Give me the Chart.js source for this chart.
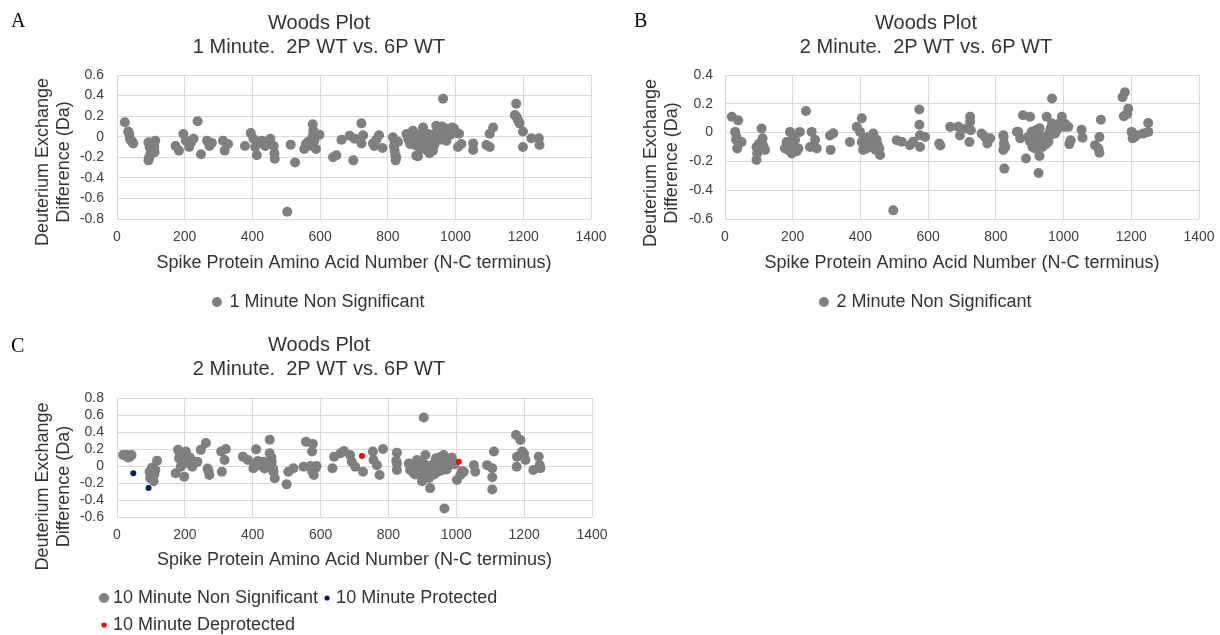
<!DOCTYPE html>
<html><head><meta charset="utf-8">
<script src="https://cdn.jsdelivr.net/npm/chart.js@4.4.1/dist/chart.umd.min.js"></script>
<style>
html,body{margin:0;padding:0;background:#fff;}
body{width:1220px;height:635px;position:relative;overflow:hidden;}
canvas{position:absolute;}
.panel{position:absolute;font-family:'Liberation Serif','Times New Roman',serif;font-size:20px;line-height:20px;color:#000;}
</style></head><body>
<canvas id="chartA" width="610" height="325" style="left:0;top:0"></canvas>
<canvas id="chartB" width="610" height="325" style="left:610px;top:0"></canvas>
<canvas id="chartC" width="610" height="315" style="left:0;top:320px"></canvas>
<div class="panel" style="left:11px;top:10px">A</div>
<div class="panel" style="left:634px;top:10px">B</div>
<div class="panel" style="left:11px;top:335px">C</div>
<script>
// ---------- data ----------
const xTicks = [0, 200, 400, 600, 800, 1000, 1200, 1400];
const yTicksA = [-0.8, -0.6, -0.4, -0.2, 0, 0.2, 0.4, 0.6];
const yTicksB = [-0.6, -0.4, -0.2, 0, 0.2, 0.4];
const yTicksC = [-0.6, -0.4, -0.2, 0, 0.2, 0.4, 0.6, 0.8];

const titleA = ['Woods Plot', '1 Minute.  2P WT vs. 6P WT'];
const titleB = ['Woods Plot', '2 Minute.  2P WT vs. 6P WT'];
const titleC = ['Woods Plot', '2 Minute.  2P WT vs. 6P WT'];
const xAxisTitle = 'Spike Protein Amino Acid Number (N-C terminus)';
const yAxisTitle = ['Deuterium Exchange', 'Difference (Da)'];

// Panel A: 1 minute
const residueA = [23,33,36,38,42,45,48,
  93,96,93,98,105,108,111,113,
  173,183,196,203,213,218,226,238,248,266,273,280,
  313,318,328,
  378,395,403,408,413,420,428,438,445,453,463,465,466,
  503,513,526,553,558,565,578,578,583,588,598,
  638,648,663,687,698,702,722,727,722,
  756,760,766,774,784,
  815,820,820,822,823,830,
  855,860,864,869,874,880,884,889,894,899,904,909,914,914,919,923,928,933,933,938,943,948,953,958,963,963,968,973,978,987,995,1002,1007,1010,1017,
  1052,1052,1091,1101,1101,1111,
  1175,1179,1181,1184,1189,1199,1199,1224,1246,1248,
  100,95,110,575,580,818,825,866,870,876,885,895,900,905,910,915,920,925,930,935,940,945,950,955,960,965,970,975,980,985,990];
const diffA = [0.14,0.05,0.03,-0.02,-0.04,-0.05,-0.065,
  -0.055,-0.10,-0.23,-0.18,-0.08,-0.12,-0.15,-0.04,
  -0.09,-0.135,0.026,-0.04,-0.10,-0.06,-0.02,0.15,-0.17,-0.04,-0.09,-0.06,
  -0.04,-0.135,-0.07,
  -0.09,0.035,-0.02,-0.10,-0.18,-0.06,-0.04,-0.09,-0.05,-0.02,-0.09,-0.16,-0.215,
  -0.73,-0.077,-0.25,-0.12,-0.07,-0.05,0.12,0.01,-0.04,-0.12,0.02,
  -0.2,-0.18,-0.03,0.01,-0.23,-0.02,0.13,0.015,-0.065,
  -0.065,-0.09,-0.03,0.015,-0.11,
  -0.006,-0.05,-0.136,-0.18,-0.23,-0.05,
  0.026,-0.02,-0.04,-0.05,0.058,-0.08,-0.184,-0.19,-0.006,0.03,0.09,-0.065,-0.1,-0.13,0.026,-0.16,-0.055,-0.136,0,-0.065,0.107,0.04,0.026,0.065,0.37,0.09,0.02,-0.04,0.03,0.074,0.08,0.042,-0.1,0.03,-0.07,
  -0.065,-0.13,-0.08,-0.1,0.03,0.09,
  0.21,0.32,0.19,0.16,0.13,0.05,-0.1,-0.015,-0.015,-0.08,
  -0.14,-0.2,-0.1,-0.09,0.06,-0.09,-0.2,-0.07,0.03,-0.02,-0.03,-0.12,-0.1,-0.04,0.02,-0.03,-0.08,-0.11,-0.03,-0.09,0.03,-0.02,0.07,-0.03,0.1,0.05,0.08,0.06,0.05,0.02,0.09];

// Panel B: 2 minute
const residueB = [20,30,34,36,39,49,
  93,95,93,100,108,111,113,118,
  177,182,192,197,202,207,217,221,239,251,256,266,271,
  310,312,320,
  369,389,399,404,404,408,415,423,430,438,448,452,456,458,
  497,507,522,546,556,574,574,576,576,591,
  633,636,665,689,694,713,722,724,724,726,
  758,768,775,783,
  822,823,824,828,822,825,
  862,866,872,880,889,901,906,906,911,911,918,921,925,929,929,926,935,941,950,955,960,966,966,975,980,995,1000,1014,1017,1021,
  1053,1056,1093,1103,1106,1106,1110,
  1174,1178,1181,1188,1191,1201,1204,1210,1216,1235,1250,1250,
  33,40,187,195,200,212,410,418,427,442,445,895,900,908,913,916,920,932,938,944,948,952,958,962,970,985,990,1005];
const diffB = [0.11,0.005,-0.03,-0.11,0.085,-0.065,
  -0.19,-0.145,-0.10,-0.08,0.028,-0.04,-0.09,-0.12,
  -0.11,-0.065,0.005,-0.145,-0.09,-0.05,-0.11,0.005,0.15,-0.10,0.005,-0.05,-0.11,
  -0.02,-0.12,-0.005,
  -0.065,0.04,0.005,0.1,-0.065,-0.12,-0.09,-0.03,-0.07,-0.007,-0.05,-0.09,-0.11,-0.155,
  -0.54,-0.053,-0.064,-0.087,-0.064,0.16,0.055,-0.018,-0.10,-0.03,
  -0.076,-0.09,0.04,0.04,-0.02,0.028,-0.065,0.11,0.075,0.016,
  -0.007,-0.03,-0.076,-0.04,
  -0.018,-0.03,-0.076,-0.1,-0.12,-0.25,
  0.006,0.005,-0.04,0.12,-0.18,0.11,0.006,-0.018,-0.087,-0.076,0.016,-0.03,-0.1,-0.163,0.03,-0.28,-0.03,-0.064,0.11,-0.064,-0.02,0.237,0.064,-0.006,0.016,0.11,0.04,0.04,-0.08,-0.053,
  0.02,-0.035,-0.087,-0.11,-0.03,-0.14,0.09,
  0.246,0.113,0.28,0.13,0.166,0.005,-0.04,-0.03,-0.018,-0.007,0.067,0.005,
  -0.05,-0.07,-0.12,-0.08,-0.03,-0.13,-0.04,-0.11,-0.1,-0.04,-0.12,-0.03,-0.06,-0.1,-0.05,-0.11,-0.02,-0.07,-0.1,-0.04,-0.08,-0.02,0.0,0.03,0.03,0.05,0.07,0.06];

// Panel C: 10 minute
const residueC = [18,28,33,38,43,
  96,98,103,105,108,113,118,
  173,180,183,188,198,203,210,215,222,237,247,262,267,270,272,
  307,309,317,321,
  371,386,402,410,420,431,440,450,450,456,461,465,
  500,505,520,550,557,575,577,580,585,
  635,640,659,669,687,692,702,725,
  754,756,766,774,784,
  823,825,825,825,
  860,864,869,874,879,884,889,899,904,909,914,923,928,938,943,948,953,958,963,965,970,978,987,1002,1012,1017,1022,
  1052,1056,1091,1106,1106,1106,1111,
  1176,1178,1179,1189,1194,1200,1204,1227,1243,1246,1248,
  100,110,103,190,195,185,205,405,415,425,435,445,455,460,570,575,588,866,872,880,893,896,902,906,912,918,920,926,932,935,940,945,950,955,960,968,972,980,995];
const diffC = [0.13,0.13,0.1,0.11,0.13,
  -0.067,-0.145,-0.106,-0.04,-0.18,-0.047,0.063,
  -0.086,0.19,0.09,-0.008,-0.125,0.17,0.03,0.1,-0.008,0.05,0.19,0.27,-0.03,-0.06,-0.106,
  0.17,-0.067,0.07,0.2,
  0.11,0.07,-0.027,0.196,0.02,0.05,-0.01,0.31,0.15,0.05,-0.067,-0.145,
  -0.216,-0.067,-0.027,-0.008,0.286,0.17,0.26,-0.106,-0.027,
  -0.027,0.11,0.15,0.176,0.13,0.05,-0.008,-0.067,
  0.17,0.07,0.01,-0.106,0.2,
  0.06,0.157,0.03,-0.047,
  0.03,-0.047,-0.04,-0.086,-0.1,0.07,0.04,-0.18,0.57,0.13,-0.027,-0.26,-0.086,0.05,-0.02,0.01,0.09,-0.05,0.13,-0.5,-0.02,0.01,0.1,-0.165,-0.106,-0.06,-0.067,
  0.01,-0.067,0.01,-0.027,-0.133,-0.275,0.17,
  0.365,-0.008,0.11,0.306,0.17,0.14,0.07,-0.047,0.11,0.01,-0.027,
  -0.12,-0.1,-0.02,0.13,0.05,0.15,0.11,0.0,0.06,0.0,-0.03,0.02,0.1,-0.03,0.0,-0.06,0.0,-0.02,0.02,0.0,-0.06,0.03,-0.09,0.02,-0.12,0.0,-0.14,-0.05,0.02,-0.1,0.09,-0.07,0.03,0.11,0.0,0.06,-0.04,0.04,0.02];
const protectedResidueC = [48, 93];
const protectedDiffC = [-0.086, -0.26];
const deprotectedResidueC = [722, 1007];
const deprotectedDiffC = [0.118, 0.05];

// ---------- styling helpers ----------
const FONT = "'Liberation Sans', Arial, Helvetica, sans-serif";
const TEXT = '#333333';
const TICK = '#404040';
const GRID = '#d9d9d9';
const GRAY = '#7f7f7f';
const NAVY = '#002060';
const RED = '#ff0000';

function pts(xs, ys) { return xs.map((x, i) => ({ x: x, y: ys[i] })); }

const yTitleShift = {
  id: 'yTitleShift',
  afterLayout(chart, args, opts) {
    const s = chart.scales.y;
    if (!s || s._shiftPatched) return;
    const orig = s.drawTitle;
    const d = (opts && opts.shift) || 0;
    s.drawTitle = function () {
      const t = this.top, b = this.bottom;
      this.top = t + d; this.bottom = b + d;
      orig.call(this);
      this.top = t; this.bottom = b;
    };
    s._shiftPatched = true;
  }
};

const customLegend = {
  id: 'customLegend',
  afterDraw(chart, args, opts) {
    if (!opts || !opts.items) return;
    const ctx = chart.ctx;
    ctx.save();
    ctx.font = '18px ' + FONT;
    ctx.textBaseline = 'middle';
    ctx.textAlign = 'left';
    let x = opts.x0, y = opts.y0;
    opts.items.forEach((it) => {
      if (it.newRow) { x = opts.x0; y += opts.rowH; }
      const ds = chart.data.datasets[it.ds];
      ctx.fillStyle = ds.backgroundColor;
      ctx.beginPath();
      ctx.arc(x + opts.markW / 2, y, it.r, 0, Math.PI * 2);
      ctx.fill();
      const tx = x + opts.markW + opts.gap;
      ctx.fillStyle = TEXT;
      ctx.fillText(ds.label, tx, y);
      x = tx + ctx.measureText(ds.label).width + opts.itemGap;
    });
    ctx.restore();
  }
};

function makeOptions(c) {
  return {
    responsive: false,
    animation: false,
    events: [],
    layout: { padding: { left: c.padL, right: 0, top: 0, bottom: c.padB } },
    plugins: {
      title: {
        display: true, text: c.title, color: TEXT,
        font: { family: FONT, size: 20, weight: 'normal', lineHeight: 1.2 },
        padding: { top: c.titleTop, bottom: c.titleBottom }
      },
      legend: c.builtinLegend ? {
        display: true, position: 'bottom', align: 'center',
        labels: {
          usePointStyle: true, boxWidth: 7, boxHeight: 7, padding: 10,
          color: TEXT, font: { family: FONT, size: 18 }
        }
      } : { display: false },
      tooltip: { enabled: false },
      yTitleShift: { shift: c.yShift },
      customLegend: c.customLegend || {}
    },
    scales: {
      x: {
        type: 'linear', min: 0, max: 1400,
        afterBuildTicks: (s) => { s.ticks = xTicks.map(v => ({ value: v })); },
        afterFit: (s) => { s.height = c.xH; },
        ticks: { color: TICK, font: { family: FONT, size: 14, lineHeight: 2.6 }, padding: 0, maxRotation: 0, autoSkip: false, callback: (v) => String(v) },
        grid: { color: GRID, drawTicks: false, lineWidth: 1 },
        border: { display: false },
        title: { display: true, text: xAxisTitle, color: TEXT, font: { family: FONT, size: 18, lineHeight: 1.2 }, padding: { top: 0, bottom: 9 } }
      },
      y: {
        type: 'linear', min: c.yTicks[0], max: c.yTicks[c.yTicks.length - 1],
        afterBuildTicks: (s) => { s.ticks = c.yTicks.map(v => ({ value: v })); },
        afterFit: (s) => { s.width = c.yW; },
        ticks: { color: TICK, font: { family: FONT, size: 14 }, padding: c.yTickPad, autoSkip: false, callback: (v) => String(v) },
        grid: { color: GRID, drawTicks: false, lineWidth: 1 },
        border: { display: false },
        title: { display: true, text: yAxisTitle, color: TEXT, font: { family: FONT, size: 18, lineHeight: 1.2 }, padding: { top: c.yTitlePad, bottom: 0 } }
      },
      yr: {
        type: 'linear', position: 'right', display: true,
        ticks: { display: false }, grid: { display: false }, border: { display: false },
        afterFit: (s) => { s.width = c.rW; }
      }
    }
  };
}

function grayDataset(label, xs, ys) {
  return {
    label: label, data: pts(xs, ys), backgroundColor: GRAY, borderColor: GRAY,
    borderWidth: 0, pointRadius: 5, pointHoverRadius: 5, pointStyle: 'circle', order: 2
  };
}

new Chart(document.getElementById('chartA'), {
  type: 'scatter',
  data: { datasets: [grayDataset('1 Minute Non Significant', residueA, diffA)] },
  options: makeOptions({
    padL: 28, padB: 4, title: titleA, titleTop: 11, titleBottom: 16,
    builtinLegend: true, yShift: 15, xH: 64, yW: 89, rW: 19,
    yTicks: yTicksA, yTickPad: 13, yTitlePad: 4
  }),
  plugins: [yTitleShift]
});

new Chart(document.getElementById('chartB'), {
  type: 'scatter',
  data: { datasets: [grayDataset('2 Minute Non Significant', residueB, diffB)] },
  options: makeOptions({
    padL: 22, padB: 4, title: titleB, titleTop: 11, titleBottom: 16,
    builtinLegend: true, yShift: 16, xH: 64, yW: 93, rW: 21,
    yTicks: yTicksB, yTickPad: 12, yTitlePad: 8
  }),
  plugins: [yTitleShift]
});

new Chart(document.getElementById('chartC'), {
  type: 'scatter',
  data: {
    datasets: [
      grayDataset('10 Minute Non Significant', residueC, diffC),
      { label: '10 Minute Protected', data: pts(protectedResidueC, protectedDiffC), backgroundColor: NAVY, borderColor: NAVY, borderWidth: 0, pointRadius: 3, pointHoverRadius: 3, order: 1 },
      { label: '10 Minute Deprotected', data: pts(deprotectedResidueC, deprotectedDiffC), backgroundColor: RED, borderColor: RED, borderWidth: 0, pointRadius: 3, pointHoverRadius: 3, order: 1 }
    ]
  },
  options: makeOptions({
    padL: 28, padB: 55, title: titleC, titleTop: 13, titleBottom: 17,
    builtinLegend: false, yShift: 29, xH: 63, yW: 89, rW: 18,
    yTicks: yTicksC, yTickPad: 13, yTitlePad: 4,
    customLegend: {
      x0: 99, y0: 278, rowH: 27, markW: 10, gap: 4, itemGap: 4,
      items: [ { ds: 0, r: 5 }, { ds: 1, r: 2.6 }, { ds: 2, r: 2.6, newRow: true } ]
    }
  }),
  plugins: [yTitleShift, customLegend]
});
</script>
</body></html>
